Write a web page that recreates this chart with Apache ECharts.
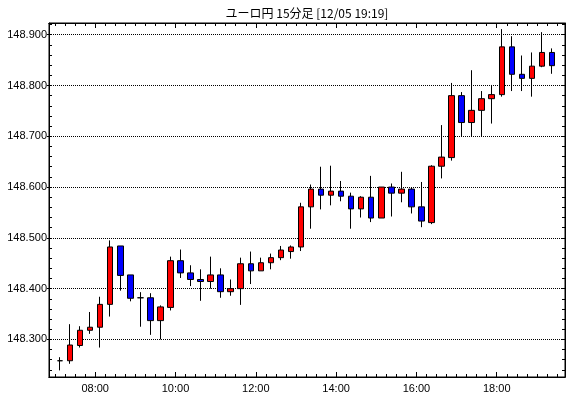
<!DOCTYPE html>
<html>
<head>
<meta charset="utf-8">
<script src="https://cdn.jsdelivr.net/npm/echarts@6/dist/echarts.min.js"></script>
<style>
  html, body { margin: 0; padding: 0; background: #fff; }
  #chart { width: 570px; height: 398px; }
</style>
</head>
<body>
<div id="chart"></div>
<script>
const title = "ユーロ円 15分足 [12/05 19:19]";

const times = [
  "07:00", "07:15", "07:30", "07:45", "08:00", "08:15", "08:30", "08:45",
  "09:00", "09:15", "09:30", "09:45", "10:00", "10:15", "10:30", "10:45",
  "11:00", "11:15", "11:30", "11:45", "12:00", "12:15", "12:30", "12:45",
  "13:00", "13:15", "13:30", "13:45", "14:00", "14:15", "14:30", "14:45",
  "15:00", "15:15", "15:30", "15:45", "16:00", "16:15", "16:30", "16:45",
  "17:00", "17:15", "17:30", "17:45", "18:00", "18:15", "18:30", "18:45",
  "19:00", "19:15"
];
const opens = [
  148.258, 148.258, 148.288, 148.318, 148.324, 148.369, 148.484, 148.427,
  148.382, 148.382, 148.337, 148.363, 148.455, 148.431, 148.418, 148.414,
  148.427, 148.394, 148.400, 148.449, 148.435, 148.451, 148.461, 148.473,
  148.482, 148.561, 148.596, 148.584, 148.592, 148.582, 148.557, 148.580,
  148.539, 148.600, 148.588, 148.596, 148.561, 148.530, 148.641, 148.658,
  148.780, 148.727, 148.751, 148.774, 148.782, 148.876, 148.822, 148.814,
  148.838, 148.865
];
const closes = [
  148.258, 148.289, 148.318, 148.324, 148.369, 148.482, 148.426, 148.381,
  148.382, 148.337, 148.364, 148.455, 148.431, 148.418, 148.414, 148.427,
  148.394, 148.400, 148.449, 148.435, 148.451, 148.461, 148.476, 148.482,
  148.561, 148.596, 148.584, 148.592, 148.582, 148.557, 148.580, 148.539,
  148.600, 148.588, 148.596, 148.561, 148.533, 148.641, 148.659, 148.780,
  148.727, 148.751, 148.774, 148.782, 148.876, 148.822, 148.814, 148.838,
  148.865, 148.839
];
const lows = [
  148.239, 148.252, 148.284, 148.311, 148.284, 148.345, 148.396, 148.375,
  148.325, 148.309, 148.300, 148.357, 148.421, 148.405, 148.376, 148.400,
  148.382, 148.386, 148.368, 148.409, 148.435, 148.438, 148.456, 148.459,
  148.474, 148.518, 148.556, 148.564, 148.572, 148.518, 148.540, 148.531,
  148.539, 148.542, 148.570, 148.548, 148.521, 148.527, 148.617, 148.652,
  148.700, 148.700, 148.700, 148.725, 148.778, 148.789, 148.789, 148.778,
  148.836, 148.823
];
const highs = [
  148.265, 148.330, 148.326, 148.354, 148.384, 148.495, 148.484, 148.427,
  148.393, 148.391, 148.367, 148.463, 148.477, 148.446, 148.438, 148.463,
  148.440, 148.418, 148.461, 148.473, 148.461, 148.469, 148.484, 148.485,
  148.569, 148.605, 148.640, 148.642, 148.612, 148.589, 148.582, 148.622,
  148.600, 148.607, 148.630, 148.600, 148.610, 148.643, 148.722, 148.805,
  148.787, 148.830, 148.789, 148.801, 148.911, 148.897, 148.859, 148.865,
  148.905, 148.873
];

const priceTicks = [148.3, 148.4, 148.5, 148.6, 148.7, 148.8, 148.9];
const timeLabels = ["08:00", "10:00", "12:00", "14:00", "16:00", "18:00"];

function toMin(t) {
  const [h, m] = t.split(":").map(Number);
  return h * 60 + m;
}
function fmtTime(v) {
  const h = Math.floor(v / 60), m = Math.round(v % 60);
  return String(h).padStart(2, "0") + ":" + String(m).padStart(2, "0");
}

const xMin = 411, xMax = 1182;
const yMin = 148.226, yMax = 148.923;

const majorX = timeLabels.map(toMin);
const minorX = [];
for (let v = 420; v <= 1170; v += 15) minorX.push(v);
const minorY = [];
for (let i = 0; i <= 34; i++) minorY.push(Math.round((148.24 + i * 0.02) * 1000) / 1000);

const candles = times.map((t, i) => [toMin(t) + 7.5, opens[i], closes[i], lows[i], highs[i]]);

const black = "#000";
const font = "Liberation Sans";

function xAx(position, ticks, len, labels) {
  return {
    type: "value", position, min: xMin, max: xMax,
    axisLine: { show: true, onZero: false, lineStyle: { color: black, width: 1 } },
    axisTick: { show: true, inside: true, length: len, customValues: ticks, lineStyle: { color: black } },
    axisLabel: labels
      ? { show: true, customValues: ticks, formatter: fmtTime, color: black, fontFamily: font, fontSize: 11, margin: 6 }
      : { show: false },
    splitLine: { show: false }
  };
}

const chart = echarts.init(document.getElementById("chart"), null, { renderer: "canvas" });
chart.setOption({
  animation: false,
  backgroundColor: "#fff",
  graphic: [{
    type: "text", x: 307, y: 13,
    style: { text: title, align: "center", verticalAlign: "middle", fill: black, font: '12px "Noto Sans CJK JP"' }
  }],
  grid: { left: 49, right: 5, top: 23, bottom: 21, show: true, borderColor: black, borderWidth: 1, backgroundColor: "#fff" },
  xAxis: [
    xAx("bottom", majorX, 5, true),
    xAx("bottom", minorX, 3, false),
    xAx("top", majorX, 5, false),
    xAx("top", minorX, 3, false)
  ],
  yAxis: [
    {
      type: "value", position: "left", min: yMin, max: yMax,
      axisLine: { show: true, lineStyle: { color: black } },
      axisTick: { show: true, inside: false, length: 2, customValues: priceTicks, lineStyle: { color: black } },
      axisLabel: { show: true, customValues: priceTicks, formatter: v => v.toFixed(3), color: black, fontFamily: font, fontSize: 11, margin: 2 },
      splitLine: { show: true, lineStyle: { color: black, type: [1, 1], width: 1 } }
    },
    {
      type: "value", position: "left", min: yMin, max: yMax,
      axisLine: { show: false },
      axisTick: { show: true, inside: true, length: 3, customValues: minorY, lineStyle: { color: black } },
      axisLabel: { show: false },
      splitLine: { show: false }
    },
    {
      type: "value", position: "right", min: yMin, max: yMax,
      axisLine: { show: true, lineStyle: { color: black } },
      axisTick: { show: true, inside: true, length: 3, customValues: minorY, lineStyle: { color: black } },
      axisLabel: { show: false },
      splitLine: { show: false }
    }
  ],
  series: [{
    type: "candlestick",
    xAxisIndex: 0, yAxisIndex: 0,
    data: candles,
    encode: { x: 0, y: [1, 2, 3, 4] },
    barWidth: 6,
    itemStyle: {
      color: "#ff0000", color0: "#0000ff",
      borderColor: black, borderColor0: black, borderColorDoji: black, borderWidth: 1
    },
    emphasis: { disabled: true }
  }]
});
</script>
</body>
</html>
